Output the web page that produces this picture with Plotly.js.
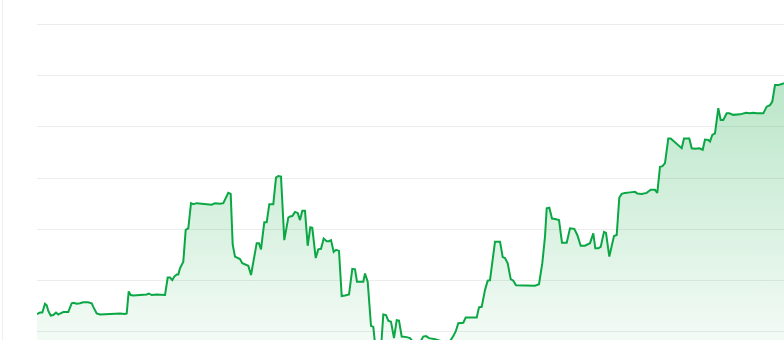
<!DOCTYPE html>
<html>
<head>
<meta charset="utf-8">
<script src="https://cdn.plot.ly/plotly-3.0.1.min.js"></script>
<style>
  html, body { margin: 0; padding: 0; background: #ffffff; overflow: hidden; }
  #wrap { position: absolute; left: 2px; top: 0; width: 781px; height: 340px; border-left: 1px solid #efefef; }
  #chart { width: 781px; height: 340px; }
</style>
</head>
<body>
<div id="wrap"><div id="chart"></div></div>
<script>
const days = [
  0, 3, 5.3, 8, 9.7, 11.3, 13.7, 16.3, 19, 21.3, 23, 26.3, 31.3, 34.7, 36.3, 39.7, 43, 46.3, 51, 54.7,
  56.3, 59.7, 63, 69.7, 76.3, 83, 88, 89.7, 91.7, 93.7, 96.3, 103, 109.7, 112, 114.7, 119.7, 128, 130.7, 133, 135.3,
  137.3, 139.7, 141.3, 143, 144.7, 146.3, 148.7, 151.3, 154, 156.3, 159.7, 164.7, 169.7, 174.7, 178, 183, 186.3, 189.7, 191.3, 193.7,
  195.7, 198, 200.7, 203, 205.3, 208.7, 211.3, 214, 216.3, 219.7, 222, 224, 227.3, 229.7, 232.3, 236.3, 239, 241.3, 244, 247.3,
  251.3, 253, 255.3, 258, 260.7, 263, 265.3, 268, 270.7, 273.3, 275.3, 278.7, 281.3, 284, 286.7, 289.7, 292, 294, 296.7, 299,
  302, 304.7, 308, 312, 315.3, 318, 320, 323, 326.3, 328, 330.7, 334, 336.3, 338.7, 344, 346.3, 349, 351.3, 354, 357,
  359.7, 362, 364.7, 369.7, 373, 376.3, 383, 386.3, 389, 392, 398, 404.7, 413, 416.3, 418.7, 421.3, 426.3, 428.7, 439.7, 442,
  444.7, 448, 450.7, 453, 458, 463, 465.7, 468, 470.7, 473.7, 476.3, 479, 483, 488, 493, 498, 502, 505.3, 508, 509.7,
  512.3, 515, 518, 522, 525, 529.7, 533, 537.3, 540.3, 543.7, 548, 553, 556.3, 558.3, 561.3, 563.7, 567, 569, 572.3, 574.7,
  577, 579.7, 582.3, 584.7, 588, 593, 598, 600.3, 604.7, 609.7, 613.7, 618, 620.3, 623, 625.5, 628, 631.3, 633.7, 637, 641.3,
  644.7, 647, 652.3, 654.7, 658, 662.3, 665.7, 668, 671.3, 673, 675.3, 678, 681.3, 683.7, 686.3, 689.7, 692.3, 696.3, 703, 709,
  713, 716.3, 719.7, 726.3, 729.7, 733, 735.3, 738, 741.3, 744.7, 747
];
const prices = [
  13.5, 13.8, 13.8, 15.5, 15.2, 14.1, 13.2, 13.3, 13.8, 13.4, 13.6, 13.9, 13.9, 15.6, 15.7, 15.5, 15.6, 15.8, 15.8, 15.6,
  14.9, 13.6, 13.4, 13.5, 13.6, 13.6, 13.5, 13.6, 17.9, 17.2, 17.1, 17.2, 17.3, 17.5, 17.2, 17.3, 17.2, 20.6, 20.6, 20.1,
  20.8, 21.2, 21.2, 22.4, 23.2, 23.7, 29.9, 30.2, 35.1, 34.9, 35.1, 35.0, 35.0, 34.8, 35.1, 35.0, 35.1, 36.4, 37.1, 36.9,
  27.0, 24.7, 24.5, 24.2, 23.4, 23.1, 22.9, 21.1, 23.7, 27.3, 27.3, 26.1, 31.4, 31.4, 34.9, 34.9, 40.1, 40.4, 40.3, 27.9,
  32.3, 32.5, 32.6, 33.4, 33.2, 31.8, 33.6, 33.6, 26.8, 30.4, 30.3, 24.4, 26.1, 26.2, 28.2, 27.7, 27.7, 27.9, 25.6, 26.0,
  25.8, 17.0, 17.1, 17.3, 22.3, 22.2, 19.8, 19.8, 19.8, 21.4, 19.8, 11.2, 11.0, 6.5, 6.8, 13.4, 13.3, 12.2, 12.0, 8.8,
  12.3, 12.2, 9.1, 9.0, 8.8, 8.0, 8.0, 9.1, 9.2, 8.8, 8.6, 8.2, 8.2, 9.2, 10.1, 11.7, 11.8, 12.8, 12.8, 14.8,
  14.9, 18.2, 20.0, 20.1, 27.6, 27.6, 24.6, 24.4, 23.4, 20.3, 20.0, 19.1, 19.1, 19.0, 19.1, 19.0, 19.3, 23.4, 28.6, 34.1,
  34.2, 32.1, 32.0, 31.8, 27.4, 27.4, 30.2, 30.1, 28.9, 26.8, 26.8, 27.3, 29.2, 26.3, 26.3, 26.6, 29.5, 29.3, 24.7, 27.0,
  28.7, 28.9, 36.2, 36.9, 37.1, 37.2, 37.3, 37.0, 36.9, 37.1, 37.7, 37.7, 37.1, 42.2, 42.3, 42.9, 47.7, 47.7, 47.1, 46.4,
  45.8, 47.7, 47.7, 45.8, 45.7, 45.8, 45.5, 47.5, 47.4, 47.1, 48.4, 48.7, 53.6, 51.3, 51.3, 52.6, 52.6, 52.3, 52.4, 52.7,
  52.6, 52.7, 52.6, 52.6, 53.9, 54.2, 54.9, 58.1, 58.1, 58.3, 58.5
];
const gridValues = [10, 20, 30, 40, 50, 60, 70];

const trace = {
  x: days,
  y: prices,
  type: 'scatter',
  mode: 'lines',
  line: { color: '#0aa744', width: 2 },
  fill: 'tozeroy',
  fillgradient: {
    type: 'vertical',
    start: 8,
    stop: 60,
    colorscale: [[0, 'rgba(22,170,70,0.05)'], [1, 'rgba(22,170,70,0.30)']]
  },
  hoverinfo: 'skip'
};

const layout = {
  width: 781,
  height: 340,
  margin: { l: 34, r: 0, t: 0, b: 0, pad: 0 },
  paper_bgcolor: '#ffffff',
  plot_bgcolor: '#ffffff',
  showlegend: false,
  xaxis: {
    range: [0, 747],
    showgrid: false, zeroline: false, showline: false,
    showticklabels: false, ticks: ''
  },
  yaxis: {
    range: [8.44, 74.68],
    tickvals: gridValues,
    showgrid: true, gridcolor: '#ececec', gridwidth: 1,
    zeroline: false, showline: false,
    showticklabels: false, ticks: ''
  }
};

Plotly.newPlot('chart', [trace], layout, { displayModeBar: false, staticPlot: true });
</script>
</body>
</html>
